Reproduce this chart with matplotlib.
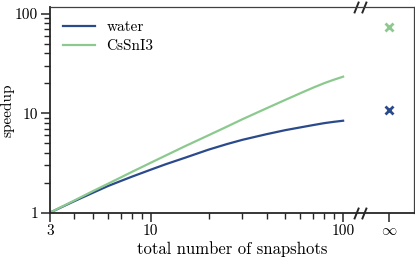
import matplotlib
matplotlib.use("Agg")
import matplotlib.pyplot as plt
from matplotlib.path import Path
from matplotlib.ticker import FixedLocator, NullFormatter

# 字体: Computer Modern
plt.rcParams['font.family'] = ['cmr10', 'DejaVu Serif']
plt.rcParams['mathtext.fontset'] = 'cm'
plt.rcParams['axes.formatter.use_mathtext'] = True
plt.rcParams['font.size'] = 11

# data
snapshots = [3, 4, 5, 6, 7, 8, 10, 12, 15, 20, 25, 30, 40, 50, 60, 70, 80, 90, 100]
speedup_water = [1, 1.3, 1.58, 1.85, 2.08, 2.3, 2.7, 3.07, 3.55, 4.3, 4.9, 5.4,
                 6.15, 6.75, 7.2, 7.6, 7.95, 8.2, 8.4]
speedup_cssni3 = [1, 1.32, 1.64, 1.95, 2.26, 2.57, 3.17, 3.76, 4.63, 6.0, 7.35, 8.7,
                  11.2, 13.6, 15.9, 18.1, 20.1, 21.8, 23.3]
inf_water = 10.8
inf_cssni3 = 74.3

labels = ["water", "CsSnI3"]
colors = ["#2b4a8b", "#8cc98f"]

# where the "infinity" column and the axis break sit on the log x axis
X_INF = 174
X_BREAK = 123

fig, ax = plt.subplots(figsize=(4.15, 2.58), dpi=100)
fig.subplots_adjust(left=0.1205, right=0.998, top=0.972, bottom=0.176)

for ys, lab, c in zip([speedup_water, speedup_cssni3], labels, colors):
    ax.plot(snapshots, ys, color=c, lw=1.6, label=lab)
ax.plot([X_INF], [inf_water], 'x', color=colors[0], ms=6, mew=2)
ax.plot([X_INF], [inf_cssni3], 'x', color=colors[1], ms=6, mew=2)

ax.set_xscale('log')
ax.set_yscale('log')
ax.set_xlim(3, 234)
ax.set_ylim(1, 116.5)

ax.xaxis.set_major_locator(FixedLocator([3, 10, 100, X_INF]))
ax.set_xticklabels(['3', '10', '100', r'$\infty$'])
ax.xaxis.set_minor_locator(FixedLocator([4, 5, 6, 7, 8, 9] + [20, 30, 40, 50, 60, 70, 80, 90]))
ax.xaxis.set_minor_formatter(NullFormatter())
ax.yaxis.set_major_locator(FixedLocator([1, 10, 100]))
ax.set_yticklabels(['1', '10', '100'])
ax.yaxis.set_minor_locator(FixedLocator([2, 3, 4, 5, 6, 7, 8, 9, 20, 30, 40, 50, 60, 70, 80, 90]))
ax.yaxis.set_minor_formatter(NullFormatter())

ax.tick_params(which='major', direction='out', length=6.5, width=1.1, color='#262626', pad=2)
ax.tick_params(which='minor', direction='out', length=4, width=1.0, color='#262626')
ax.tick_params(top=False, right=False, which='both')

for side in ['left', 'bottom']:
    ax.spines[side].set_linewidth(1.3)
    ax.spines[side].set_color('#262626')
for side in ['top', 'right']:
    ax.spines[side].set_linewidth(0.9)
    ax.spines[side].set_color('#404040')

# axis break marks //
slash = Path([(-1.6, -1.5), (-0.4, 1.5), (0.4, -1.5), (1.6, 1.5)],
             [Path.MOVETO, Path.LINETO, Path.MOVETO, Path.LINETO])
ax.plot([X_BREAK, X_BREAK], [0, 1], transform=ax.get_xaxis_transform(),
        marker=slash, ms=9, mew=1.4, color='#262626', ls='none', clip_on=False)

ax.set_xlabel('total number of snapshots', fontsize=12, labelpad=2)
ax.set_ylabel('speedup', labelpad=0)
ax.legend(loc='upper left', frameon=False, handlelength=2.1, handletextpad=0.75,
          borderaxespad=0.45, labelspacing=0.35)

fig.savefig('out.png', dpi=100)
